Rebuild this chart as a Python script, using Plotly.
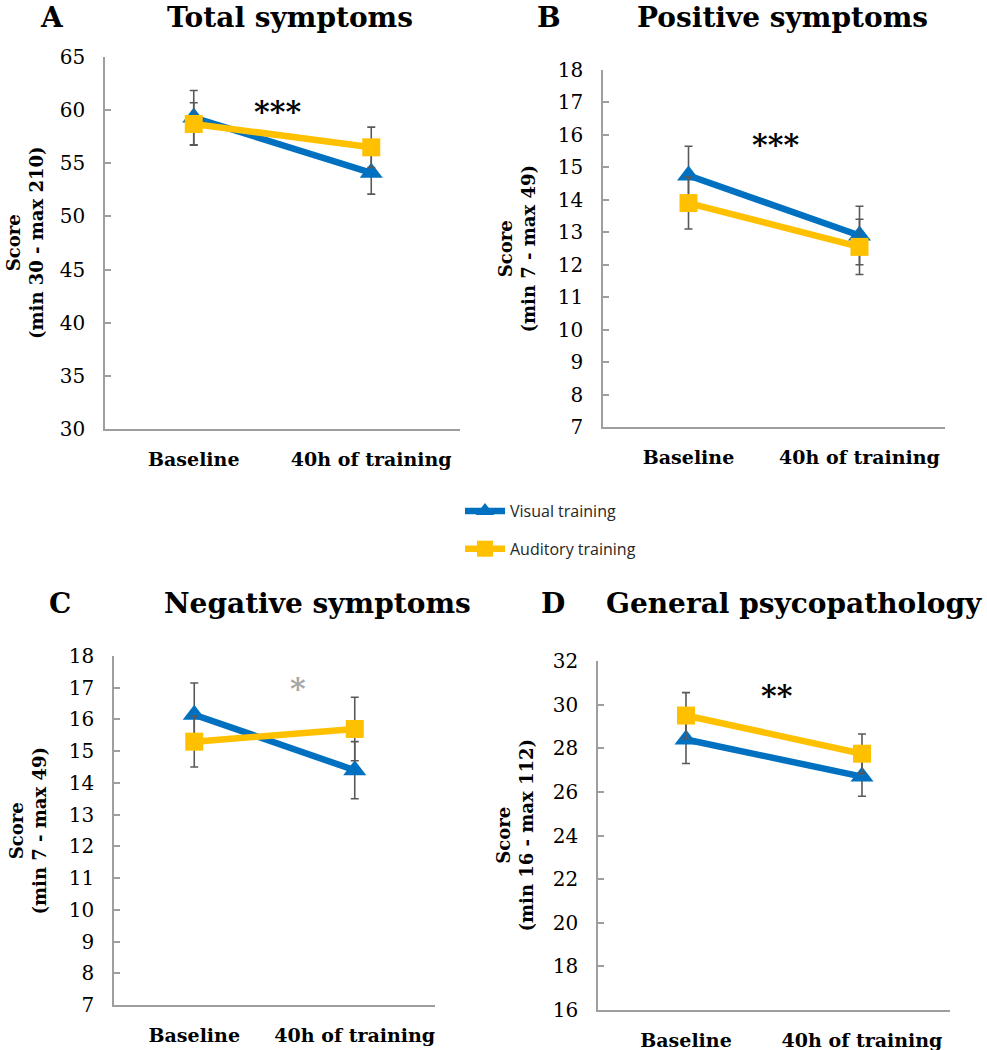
import plotly.graph_objects as go

W, H = 987, 1050

categories = ["Baseline", "40h of training"]
series_names = ["Visual training", "Auditory training"]

# Panel A: Total symptoms
a_visual = [59.3, 54.1]
a_visual_err = [2.55, 2.0]
a_auditory = [58.7, 56.5]
a_auditory_err = [2.0, 1.9]

# Panel B: Positive symptoms
b_visual = [14.75, 12.9]
b_visual_err = [0.9, 0.9]
b_auditory = [13.9, 12.55]
b_auditory_err = [0.8, 0.85]

# Panel C: Negative symptoms
c_visual = [16.15, 14.4]
c_visual_err = [1.0, 0.9]
c_auditory = [15.3, 15.7]
c_auditory_err = [0.8, 1.0]

# Panel D: General psycopathology
d_visual = [28.4, 26.7]
d_visual_err = [1.1, 0.9]
d_auditory = [29.5, 27.75]
d_auditory_err = [1.05, 0.9]

panel_letters = ["A", "B", "C", "D"]
panel_titles = ["Total symptoms", "Positive symptoms", "Negative symptoms", "General psycopathology"]
y_titles = ["(min 30 - max 210)", "(min 7 - max 49)", "(min 7 - max 49)", "(min 16 - max 112)"]
y_ranges = [(30, 65), (7, 18), (7, 18), (16, 32)]
y_dticks = [5, 1, 1, 2]
sig_marks = ["***", "***", "*", "**"]
sig_colors = ["#000000", "#000000", "#A6A6A6", "#000000"]

BLUE = "#0070C0"
YELLOW = "#FFC000"
ERR = "#595959"
AXIS = "#9E9E9E"
SERIF = "DejaVu Serif"

def px_x(p):
    return p / W

def px_y(p):
    return 1 - p / H

# plot areas in window pixels: (left, right, top, bottom)
areas = [
    (105, 460, 57, 429),
    (603, 945, 70, 427),
    (114, 435, 656, 1005),
    (598, 950, 661, 1010),
]
title_pos = [(290, 18), (782, 18), (317, 603), (794, 603)]
letter_pos = [(52, 18), (549, 18), (60, 603), (553, 603)]
ytitle_x = [25, 516, 27, 514]
sig_pos = [(277, 111), (775, 145), (298, 688), (777, 695)]

data = [
    (a_visual, a_visual_err, a_auditory, a_auditory_err),
    (b_visual, b_visual_err, b_auditory, b_auditory_err),
    (c_visual, c_visual_err, c_auditory, c_auditory_err),
    (d_visual, d_visual_err, d_auditory, d_auditory_err),
]

fig = go.Figure()
xs = list(range(len(categories)))
annotations = []

for i in range(4):
    vis, vis_e, aud, aud_e = data[i]
    xa = "x" if i == 0 else f"x{i+1}"
    ya = "y" if i == 0 else f"y{i+1}"
    fig.add_trace(go.Scatter(
        x=xs, y=vis, xaxis=xa, yaxis=ya, mode="lines+markers",
        name=series_names[0], legendgroup="g1", showlegend=(i == 0),
        line=dict(color=BLUE, width=6.5),
        marker=dict(symbol="triangle-up", size=20, color=BLUE),
        error_y=dict(type="data", array=vis_e, color=ERR, thickness=1.6, width=4),
    ))
    fig.add_trace(go.Scatter(
        x=xs, y=aud, xaxis=xa, yaxis=ya, mode="lines+markers",
        name=series_names[1], legendgroup="g2", showlegend=(i == 0),
        line=dict(color=YELLOW, width=6.5),
        marker=dict(symbol="square", size=18, color=YELLOW),
        error_y=dict(type="data", array=aud_e, color=ERR, thickness=1.6, width=4),
    ))
    l, r, t, b = areas[i]
    sfx = "" if i == 0 else str(i + 1)
    fig.layout["xaxis" + sfx] = dict(
        domain=[px_x(l), px_x(r)], anchor=ya, range=[-0.5, len(categories) - 0.5],
        tickvals=xs, ticktext=categories, showgrid=False, zeroline=False,
        showline=True, linecolor=AXIS, linewidth=1.5, ticks="",
        tickfont=dict(family=SERIF, size=19, color="#000000", weight="bold"),
        ticklabelstandoff=12, fixedrange=True, automargin=False,
    )
    y0, y1 = y_ranges[i]
    fig.layout["yaxis" + sfx] = dict(
        domain=[px_y(b), px_y(t)], anchor=xa, range=[y0, y1], dtick=y_dticks[i],
        tick0=y0, showgrid=False, zeroline=False, showline=True, linecolor=AXIS,
        linewidth=1.5, ticks="inside", ticklen=6, tickcolor=AXIS, tickwidth=1.5,
        tickfont=dict(family=SERIF, size=20, color="#000000"),
        ticklabelstandoff=14, fixedrange=True, automargin=False,
    )
    tx, ty = title_pos[i]
    annotations.append(dict(text=panel_titles[i], x=px_x(tx), y=px_y(ty), xref="paper", yref="paper",
                            showarrow=False, xanchor="center", yanchor="middle",
                            font=dict(family=SERIF, size=28, color="#000000", weight="bold")))
    lx, ly = letter_pos[i]
    annotations.append(dict(text=panel_letters[i], x=px_x(lx), y=px_y(ly), xref="paper", yref="paper",
                            showarrow=False, xanchor="center", yanchor="middle",
                            font=dict(family=SERIF, size=28, color="#000000", weight="bold")))
    annotations.append(dict(text="Score<br>" + y_titles[i], x=px_x(ytitle_x[i]), y=px_y((t + b) / 2),
                            xref="paper", yref="paper", showarrow=False, textangle=-90,
                            xanchor="center", yanchor="middle",
                            font=dict(family=SERIF, size=18, color="#000000", weight="bold")))
    sx, sy = sig_pos[i]
    annotations.append(dict(text=sig_marks[i], x=px_x(sx), y=px_y(sy), xref="paper", yref="paper",
                            showarrow=False, xanchor="center", yanchor="middle",
                            font=dict(family=SERIF, size=30, color=sig_colors[i], weight="bold")))

fig.update_layout(
    width=W, height=H, margin=dict(l=0, r=0, t=0, b=0, pad=0, autoexpand=False),
    paper_bgcolor="white", plot_bgcolor="white",
    annotations=annotations,
    showlegend=True,
    hovermode=False,
    legend=dict(x=px_x(460), y=px_y(494), xanchor="left", yanchor="top",
                font=dict(family="Open Sans", size=16, color="#262626"),
                tracegroupgap=14, bgcolor="rgba(0,0,0,0)", itemwidth=40),
)

# remove the browser's default 8px page margin so the figure fills the window exactly
fig.write_html("out.html", config={"displayModeBar": False},
               post_script="document.body.style.margin='0px';")
